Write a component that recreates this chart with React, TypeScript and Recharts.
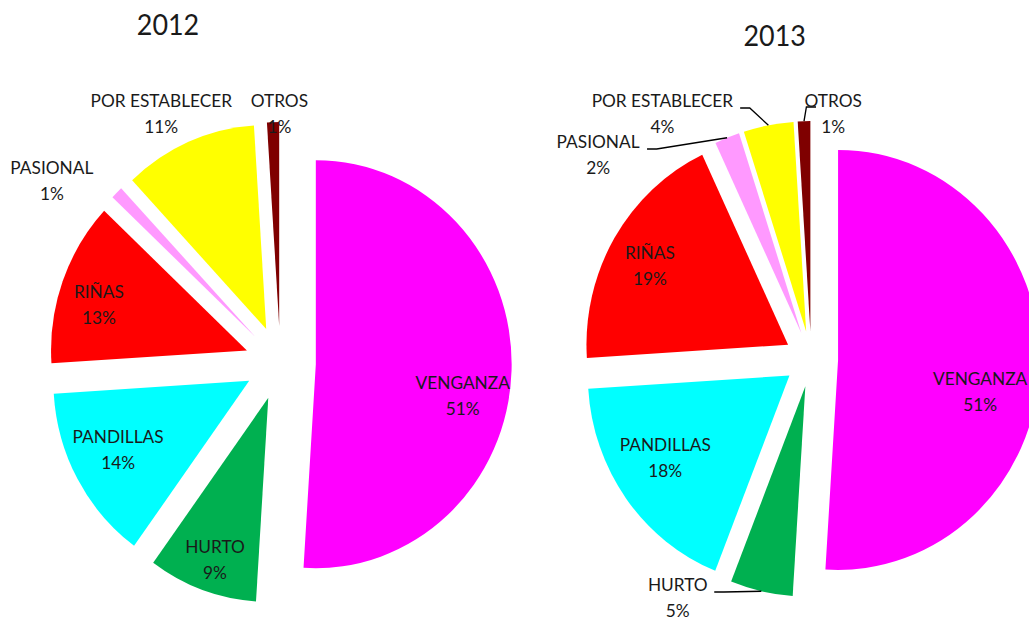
import { PieChart, Pie, Cell } from "recharts";

const categories = ["VENGANZA", "HURTO", "PANDILLAS", "RIÑAS", "PASIONAL", "POR ESTABLECER", "OTROS"];
const values2012 = [51, 9, 14, 13, 1, 11, 1];
const values2013 = [51, 5, 18, 19, 2, 4, 1];
const years = ["2012", "2013"];

const colors = ["#FF00FF", "#00B050", "#00FFFF", "#FF0000", "#FF99FF", "#FFFF00", "#7F0000"];
const FONT = "Lato, 'Noto Sans', sans-serif";
const TEXT = "#1a1a1a";
// the original picture is a little narrower than it is tall
const SQUEEZE = 0.96;
const W = 1029;
const H = 621;

type Layout = {
  cx: number;
  cy: number;
  r: number;
  explode: number;
  title: [number, number];
  // label block centre, relative to the pie centre
  labels: [number, number][];
  // leader line start, relative to the label centre (null = no line)
  leaders: ([number, number] | null)[];
};

const layout2012: Layout = {
  cx: 292,
  cy: 363,
  r: 204,
  explode: 37,
  title: [175, 35],
  labels: [[190, 33], [-68, 197], [-169, 87], [-189, -58], [-238, -182], [-124, -249], [-1, -249]],
  leaders: [null, null, null, null, null, null, null],
};

const layout2013: Layout = {
  cx: 845,
  cy: 359,
  r: 210,
  explode: 28,
  title: [807, 46],
  labels: [[176, 33], [-139, 239], [-152, 99], [-168, -93], [-222, -204], [-155, -245], [23, -245]],
  leaders: [null, [38, -6], null, null, [51, -6], [81, -6], [-18, -7]],
};

const rad = (d: number) => (d * Math.PI) / 180;

function slices(values: number[]) {
  const total = values.reduce((s, v) => s + v, 0);
  let acc = 0;
  return values.map((v, i) => {
    const a0 = (acc / total) * 360;
    acc += v;
    const a1 = (acc / total) * 360;
    return { name: categories[i], value: v, a0, a1, mid: (a0 + a1) / 2 };
  });
}

function renderPies(values: number[], lay: Layout, tag: string) {
  return slices(values).map((s, i) => {
    const ox = lay.explode * Math.sin(rad(s.mid));
    const oy = -lay.explode * Math.cos(rad(s.mid));
    const lx = lay.cx + lay.labels[i][0];
    const ly = lay.cy + lay.labels[i][1];
    const lead = lay.leaders[i];
    const ex = lay.cx + (lay.explode + lay.r) * Math.sin(rad(s.mid));
    const ey = lay.cy - (lay.explode + lay.r) * Math.cos(rad(s.mid));

    const label = () => {
      let line = null;
      if (lead) {
        const sx = lx + lead[0];
        const sy = ly + lead[1];
        const dir = ex > sx ? 1 : -1;
        line = (
          <polyline
            points={`${sx},${sy} ${sx + dir * 10},${sy} ${ex},${ey}`}
            fill="none"
            stroke="#000"
            strokeWidth={1.4}
          />
        );
      }
      return (
        <g>
          {line}
          <text x={lx} y={ly - 6.5} textAnchor="middle" fontFamily={FONT} fontSize={18} fill={TEXT}>
            {s.name}
          </text>
          <text x={lx} y={ly + 19.5} textAnchor="middle" fontFamily={FONT} fontSize={18} fill={TEXT}>
            {`${s.value}%`}
          </text>
        </g>
      );
    };

    return (
      <Pie
        key={`${tag}-${i}`}
        data={[{ name: s.name, value: s.value }]}
        dataKey="value"
        nameKey="name"
        cx={lay.cx + ox}
        cy={lay.cy + oy}
        outerRadius={lay.r}
        startAngle={90 - s.a0}
        endAngle={90 - s.a1}
        stroke="none"
        isAnimationActive={false}
        labelLine={false}
        label={label}
      >
        <Cell fill={colors[i]} />
      </Pie>
    );
  });
}

export default function App() {
  const innerW = Math.round(W / SQUEEZE);
  return (
    <div style={{ position: "absolute", left: 0, top: 0, width: W, height: H, overflow: "hidden", background: "#fff" }}>
      <div style={{ position: "relative", width: innerW, height: H, transform: `scaleX(${SQUEEZE})`, transformOrigin: "0 0" }}>
        <PieChart width={innerW} height={H} margin={{ top: 0, right: 0, bottom: 0, left: 0 }}>
          {renderPies(values2012, layout2012, "a")}
          {renderPies(values2013, layout2013, "b")}
        </PieChart>
        <svg width={innerW} height={H} style={{ position: "absolute", left: 0, top: 0, pointerEvents: "none" }}>
          {[layout2012, layout2013].map((lay, i) => (
            <text key={years[i]} x={lay.title[0]} y={lay.title[1]} textAnchor="middle" fontFamily={FONT} fontSize={28} fill={TEXT}>
              {years[i]}
            </text>
          ))}
        </svg>
      </div>
    </div>
  );
}
